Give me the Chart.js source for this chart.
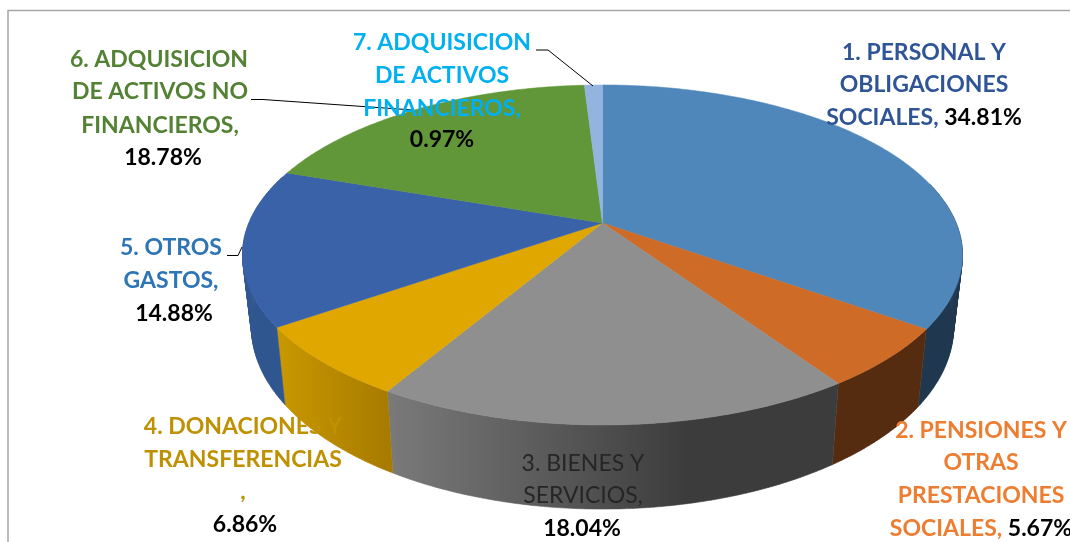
<!DOCTYPE html>
<html>
<head>
<meta charset="utf-8">
<title>Gastos</title>
<script src="https://cdn.jsdelivr.net/npm/chart.js@4"></script>
<style>
  html, body { margin: 0; padding: 0; background: #fff; overflow: hidden; }
  canvas { display: block; }
</style>
</head>
<body>
<canvas id="pieChart" width="1070" height="542"></canvas>
<script>
// Chart data
const categories = [
    '1. PERSONAL Y OBLIGACIONES SOCIALES',
    '2. PENSIONES Y OTRAS PRESTACIONES SOCIALES',
    '3. BIENES Y SERVICIOS',
    '4. DONACIONES Y TRANSFERENCIAS',
    '5. OTROS GASTOS',
    '6. ADQUISICION DE ACTIVOS NO FINANCIEROS',
    '7. ADQUISICION DE ACTIVOS FINANCIEROS'
];
const percentages = [34.81, 5.67, 18.04, 6.86, 14.88, 18.78, 0.97];

// Slice and side wall colours
const sliceColors = ['#4f87bb', '#cd6b27', '#8f8f8f', '#dfa700', '#3a62a8', '#619639', '#93b4de'];
const wallColors = [
    ['#1f3850', '#1f3850'],
    ['#552c10', '#552c10'],
    ['#7a7a7a', '#5c5c5c', '#3c3c3c', '#3c3c3c'],
    ['#c99800', '#a67a00'],
    ['#30568f', '#30568f'],
    null,
    null
];

// Label text, one entry per line: [text, value?, x centre, baseline]
const labelColors = ['#2f5597', '#ed7d31', '#262626', '#bf9000', '#2e75b6', '#548235', '#00b0f0'];
const labelLines = [
    [['1. PERSONAL Y', '', 924, 60], ['OBLIGACIONES', '', 924, 92], ['SOCIALES, ', '34.81%', 924, 125]],
    [['2. PENSIONES Y', '', 981, 438], ['OTRAS', '', 981, 470], ['PRESTACIONES', '', 981, 503], ['SOCIALES, ', '5.67%', 981, 536]],
    [['3. BIENES Y', '', 583, 471], ['SERVICIOS,', '', 583, 503], ['', '18.04%', 582, 536]],
    [['4. DONACIONES Y', '', 243, 434], ['TRANSFERENCIAS', '', 243, 467], [',', '', 243, 499], ['', '6.86%', 245, 532]],
    [['5. OTROS', '', 171, 255], ['GASTOS,', '', 171, 288], ['', '14.88%', 174, 321]],
    [['6. ADQUISICION', '', 159, 67], ['DE ACTIVOS NO', '', 160, 99], ['FINANCIEROS,', '', 160, 133], ['', '18.78%', 163, 165]],
    [['7. ADQUISICION', '', 442, 50], ['DE ACTIVOS', '', 442, 83], ['FINANCIEROS,', '', 442, 116], ['', '0.97%', 442, 147]]
];
const leaderLines = [
    [[251, 99.5], [263, 99.5], [413, 110]],
    [[536, 50], [548, 50], [593, 86]],
    [[227, 255.5], [238, 255.5], [242, 247]]
];

const FONT_BOLD = 'bold 23px Lato';
const FONT_PLAIN = '23px Lato';

// Perspective of the tilted pie
const cx = 602.5, cy = 223, radiusX = 353.6, radiusY = 164;
const tiltY = 0.188;

function topRim(t) {
    const u = Math.cos(t), v = Math.sin(t);
    const w = 1 - tiltY * v;
    return [cx + radiusX * u / w, cy + radiusY * v / w];
}

function bottomRim(t) {
    const p = topRim(t);
    return [cx + (p[0] - cx) * 0.975, cy + (p[1] - cy) * 1.07 + 70];
}

function sample(fn, from, to) {
    const n = Math.max(2, Math.ceil(Math.abs(to - from) / 0.01));
    const out = [];
    for (let i = 0; i <= n; i++) out.push(fn(from + (to - from) * i / n));
    return out;
}

function drawWall(ctx, arc, stops) {
    const from = Math.max(arc.startAngle, -0.25);
    const to = Math.min(arc.endAngle, Math.PI + 0.3);
    if (!stops || from >= to) return;
    const top = sample(topRim, from, to);
    const bottom = sample(bottomRim, from, to);
    const xs = top.concat(bottom).map(p => p[0]);
    const grad = ctx.createLinearGradient(Math.min(...xs), 0, Math.max(...xs), 0);
    stops.forEach((c, i) => grad.addColorStop(i / (stops.length - 1), c));
    ctx.fillStyle = grad;
    ctx.strokeStyle = grad;
    ctx.lineWidth = 0.5;
    // one quad per step so the side silhouette follows the rim tangents
    ctx.beginPath();
    for (let i = 0; i < top.length - 1; i++) {
        ctx.moveTo(top[i][0], top[i][1]);
        ctx.lineTo(top[i + 1][0], top[i + 1][1]);
        ctx.lineTo(bottom[i + 1][0], bottom[i + 1][1]);
        ctx.lineTo(bottom[i][0], bottom[i][1]);
        ctx.closePath();
    }
    ctx.fill();
    ctx.stroke();
}

function drawFace(ctx, arc, color) {
    ctx.fillStyle = color;
    ctx.strokeStyle = color;
    ctx.lineWidth = 0.5;
    ctx.beginPath();
    ctx.moveTo(cx, cy);
    sample(topRim, arc.startAngle, arc.endAngle).forEach(p => ctx.lineTo(p[0], p[1]));
    ctx.closePath();
    ctx.fill();
    ctx.stroke();
}

function drawLabelLine(ctx, line, color, plain) {
    const [text, value, x, y] = line;
    ctx.font = plain ? FONT_PLAIN : FONT_BOLD;
    const textWidth = ctx.measureText(text).width;
    ctx.font = FONT_BOLD;
    const valueWidth = ctx.measureText(value).width;
    let left = x - (textWidth + valueWidth) / 2;
    if (text) {
        ctx.font = plain ? FONT_PLAIN : FONT_BOLD;
        ctx.fillStyle = color;
        ctx.fillText(text, left, y);
        left += textWidth;
    }
    if (value) {
        ctx.font = FONT_BOLD;
        ctx.fillStyle = '#000';
        ctx.fillText(value, left, y);
    }
}

// Replaces the flat pie drawing, angles still come from the arc elements
const tiltedPie = {
    id: 'tiltedPie',
    beforeDatasetsDraw(chart) {
        const ctx = chart.ctx;
        const arcs = chart.getDatasetMeta(0).data;
        ctx.save();

        // chart frame
        ctx.strokeStyle = '#a6a6a6';
        ctx.lineWidth = 1.5;
        ctx.beginPath();
        ctx.moveTo(8, 542);
        ctx.lineTo(8, 10.5);
        ctx.lineTo(1070, 10.5);
        ctx.stroke();

        arcs.forEach((arc, i) => drawWall(ctx, arc, wallColors[i]));
        arcs.forEach(arc => drawFace(ctx, arc, arc.options.backgroundColor));

        ctx.strokeStyle = '#000';
        ctx.lineWidth = 1;
        leaderLines.forEach(points => {
            ctx.beginPath();
            points.forEach(p => ctx.lineTo(p[0], p[1]));
            ctx.stroke();
        });

        ctx.textAlign = 'left';
        ctx.textBaseline = 'alphabetic';
        labelLines.forEach((lines, i) => {
            lines.forEach(line => drawLabelLine(ctx, line, labelColors[i], i === 2));
        });

        ctx.restore();
        return false;
    }
};

const pieChart = new Chart(document.getElementById('pieChart').getContext('2d'), {
    type: 'pie',
    data: {
        labels: categories,
        datasets: [{
            data: percentages,
            backgroundColor: sliceColors,
            borderWidth: 0
        }]
    },
    options: {
        responsive: false,
        animation: false,
        plugins: {
            legend: { display: false },
            tooltip: { enabled: false }
        }
    },
    plugins: [tiltedPie]
});
</script>
</body>
</html>
